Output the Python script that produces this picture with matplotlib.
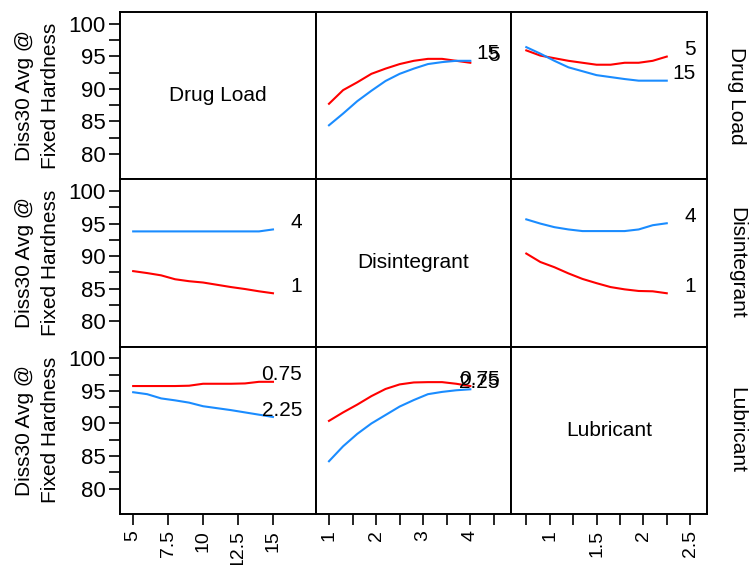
import matplotlib
matplotlib.use("Agg")
import matplotlib.pyplot as plt
from matplotlib.ticker import FixedLocator, NullFormatter

plt.rcParams['font.family'] = ['Liberation Sans', 'DejaVu Sans']

factors = ["Drug Load", "Disintegrant", "Lubricant"]
level_labels = [("5", "15"), ("1", "4"), ("0.75", "2.25")]

# x grids for each factor
dl_x = [5, 6, 7, 8, 9, 10, 11, 12, 13, 14, 15]
dis_x = [1.0, 1.3, 1.6, 1.9, 2.2, 2.5, 2.8, 3.1, 3.4, 3.7, 4.0]
lub_x = [0.75, 0.9, 1.05, 1.2, 1.35, 1.5, 1.65, 1.8, 1.95, 2.1, 2.25]

# row 1: drug load 5 (red) / 15 (blue)
dl5_vs_dis = [87.7, 89.8, 91.0, 92.3, 93.1, 93.8, 94.3, 94.6, 94.6, 94.3, 94.0]
dl15_vs_dis = [84.4, 86.2, 88.1, 89.7, 91.2, 92.3, 93.1, 93.8, 94.1, 94.3, 94.3]
dl5_vs_lub = [95.9, 95.1, 94.7, 94.3, 94.0, 93.7, 93.7, 94.0, 94.0, 94.3, 94.95]
dl15_vs_lub = [96.4, 95.4, 94.3, 93.3, 92.7, 92.1, 91.8, 91.5, 91.25, 91.25, 91.25]

# row 2: disintegrant 1 (red) / 4 (blue)
dis1_vs_dl = [87.7, 87.4, 87.05, 86.45, 86.15, 85.95, 85.6, 85.25, 84.95, 84.6, 84.3]
dis4_vs_dl = [93.8, 93.8, 93.8, 93.8, 93.8, 93.8, 93.8, 93.8, 93.8, 93.8, 94.1]
dis1_vs_lub = [90.4, 89.1, 88.3, 87.35, 86.5, 85.85, 85.25, 84.9, 84.65, 84.6, 84.3]
dis4_vs_lub = [95.65, 95.0, 94.45, 94.1, 93.85, 93.85, 93.85, 93.85, 94.1, 94.75, 95.05]

# row 3: lubricant 0.75 (red) / 2.25 (blue)
lub075_vs_dl = [95.75, 95.75, 95.75, 95.75, 95.8, 96.1, 96.1, 96.1, 96.15, 96.4, 96.4]
lub225_vs_dl = [94.8, 94.5, 93.85, 93.55, 93.2, 92.65, 92.35, 92.05, 91.7, 91.35, 91.0]
lub075_vs_dis = [90.4, 91.7, 92.9, 94.2, 95.3, 96.0, 96.3, 96.35, 96.35, 96.1, 95.75]
lub225_vs_dis = [84.2, 86.5, 88.4, 90.0, 91.3, 92.6, 93.6, 94.5, 94.85, 95.1, 95.25]

xs = [dl_x, dis_x, lub_x]
panels = {
    (0, 1): (dl5_vs_dis, dl15_vs_dis),
    (0, 2): (dl5_vs_lub, dl15_vs_lub),
    (1, 0): (dis1_vs_dl, dis4_vs_dl),
    (1, 2): (dis1_vs_lub, dis4_vs_lub),
    (2, 0): (lub075_vs_dl, lub225_vs_dl),
    (2, 1): (lub075_vs_dis, lub225_vs_dis),
}

xlims = [(4.05, 18.05), (0.716, 4.87), (0.59, 2.68)]
x_major = [[5, 7.5, 10, 12.5, 15], [1, 2, 3, 4], [1, 1.5, 2, 2.5]]
x_minor = [[], [1.5, 2.5, 3.5, 4.5], [0.75, 1.25, 1.75, 2.25]]
x_ticklabels = [["5", "7.5", "10", "12.5", "15"], ["1", "2", "3", "4"],
                ["1", "1.5", "2", "2.5"]]
y_major = [80, 85, 90, 95, 100]
y_minor = [82.5, 87.5, 92.5, 97.5]

red = '#ff0000'
blue = '#1a8cff'

fig, axes = plt.subplots(3, 3, figsize=(7.54, 5.65), dpi=100)
fig.subplots_adjust(left=0.159, right=0.9377, top=0.9788, bottom=0.0903,
                    hspace=0, wspace=0)

for i in range(3):
    for j in range(3):
        ax = axes[i, j]
        ax.set_xlim(xlims[j])
        ax.set_ylim(76.1, 101.8)
        for s in ax.spines.values():
            s.set_linewidth(1.4)
        ax.tick_params(which='both', direction='out', length=8, width=1.2,
                       pad=3.5)
        ax.tick_params(axis='x', labelsize=14)
        ax.tick_params(axis='y', labelsize=16, pad=2.5)
        if i == j:
            ax.text(0.5, 0.5, factors[i], transform=ax.transAxes,
                    ha='center', va='center', fontsize=15)
        else:
            r, b = panels[(i, j)]
            x = xs[j]
            ax.plot(x, r, color=red, lw=1.5)
            ax.plot(x, b, color=blue, lw=1.5)
            for vals, lab in zip((r, b), level_labels[i]):
                ax.annotate(lab, (x[-1], vals[-1]), xytext=(21, 5),
                            textcoords='offset points', ha='right',
                            va='center', fontsize=15)
        # y axis only on the left column
        if j == 0:
            ax.yaxis.set_major_locator(FixedLocator(y_major))
            ax.yaxis.set_minor_locator(FixedLocator(y_minor))
            ax.yaxis.set_minor_formatter(NullFormatter())
            ax.text(-0.42, 0.5, "Diss30 Avg @\nFixed Hardness",
                    transform=ax.transAxes, rotation=90, ha='center',
                    va='center', fontsize=15, linespacing=1.5)
        else:
            ax.set_yticks([])
        # x axis only on the bottom row
        if i == 2:
            ax.xaxis.set_major_locator(FixedLocator(x_major[j]))
            ax.set_xticklabels(x_ticklabels[j], rotation=90)
            ax.xaxis.set_minor_locator(FixedLocator(x_minor[j]))
            ax.xaxis.set_minor_formatter(NullFormatter())
        else:
            ax.set_xticks([])
        if j == 2:
            ax.text(1.153, 0.5, factors[i], transform=ax.transAxes,
                    rotation=-90, ha='center', va='center', fontsize=15)

plt.savefig("out.png", dpi=100)
